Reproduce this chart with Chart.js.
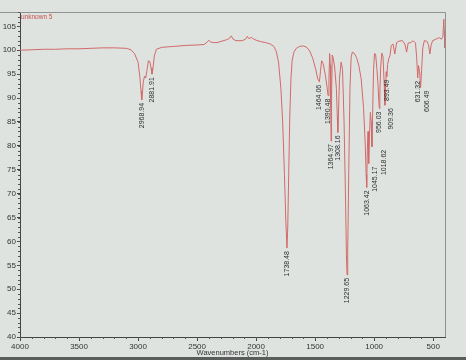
<!DOCTYPE html>
<html>
<head>
<meta charset="utf-8">
<script src="https://cdn.jsdelivr.net/npm/chart.js@4.4.1/dist/chart.umd.min.js"></script>
<style>
html, body { margin: 0; padding: 0; background: #dfe3e0; }
#wrap { width: 466px; height: 360px; }
</style>
</head>
<body>
<div id="wrap"><canvas id="irChart" width="466" height="360"></canvas></div>
<script>
// spectrum (wavenumber cm-1 -> %T)
const wavenumbers = [
    4000, 3900, 3800, 3700, 3600, 3500, 3400, 3300, 3200, 3100, 3060, 3030, 3000, 2985, 2975,
    2968.94, 2962, 2955, 2945, 2935, 2925, 2912, 2900, 2890, 2881.91, 2874, 2862, 2845, 2800,
    2700, 2600, 2500, 2440, 2410, 2400, 2385, 2360, 2330, 2290, 2250, 2225, 2210, 2195, 2170,
    2120, 2090, 2075, 2060, 2040, 2025, 2000, 1960, 1920, 1880, 1850, 1830, 1810, 1790, 1775,
    1760, 1748, 1738.48, 1732, 1724, 1715, 1705, 1695, 1680, 1660, 1630, 1600, 1570, 1545, 1520,
    1495, 1478, 1464.06, 1455, 1445, 1432, 1415, 1400, 1390.48, 1383, 1377, 1372, 1368, 1364.97,
    1361, 1355, 1348, 1335, 1320, 1312, 1308.16, 1303, 1294, 1280, 1268, 1255, 1242, 1235,
    1229.65, 1224, 1215, 1205, 1195, 1185, 1170, 1150, 1130, 1110, 1090, 1075, 1068, 1063.42,
    1058, 1052, 1048, 1045.17, 1040, 1032, 1025, 1018.62, 1012, 1005, 997, 988, 978, 968, 960,
    956.03, 952, 945, 935, 925, 915, 909.36, 904, 898, 893.49, 886, 876, 866, 855, 840, 825,
    810, 790, 760, 740, 725, 712, 690, 670, 650, 640, 631.32, 624, 615, 606.49, 598, 588, 575,
    555, 540, 528, 518, 505, 485, 465, 445, 430, 418, 410, 406, 402
];
const transmittance = [
    100.0, 100.1, 100.2, 100.2, 100.3, 100.3, 100.4, 100.5, 100.5, 100.4, 100.1, 99.3, 97.5, 94.5, 91.5,
    89.6, 91.5, 93.5, 94.6, 94.2, 95.8, 97.8, 97.6, 96.3, 95.0, 96.2, 98.8, 100.2, 100.6,
    100.8, 101.0, 101.1, 101.2, 101.8, 102.1, 101.7, 101.6, 101.6, 101.9, 102.2, 102.5, 103.0, 102.3, 102.0,
    102.0, 102.3, 102.9, 102.4, 102.7, 102.4, 102.1, 101.8, 101.6, 101.3, 100.8, 99.8, 97.5, 92, 85,
    74, 64, 58.6, 63, 74, 86, 94, 97.8, 99.6, 100.4, 100.8, 100.9, 100.6, 99.8, 98.3,
    96.0, 94.0, 93.4, 95.5, 97.8, 97.2, 95, 92.5, 90.5, 94, 99.3, 97, 88, 81,
    90, 99, 98.5, 96.5, 92, 86, 82.8, 86, 94, 97.5, 96, 85, 68, 57,
    53, 58, 75, 92, 98.5, 99.6, 99.4, 98.5, 96.8, 94, 88, 80, 74, 71.3,
    79, 83, 79, 76.3, 82, 87, 85, 79.8, 88, 96, 99.3, 99.2, 96.5, 93, 89,
    87.8, 91, 96.5, 99.4, 98.6, 93, 88.5, 91.5, 95.5, 94.5, 97, 98.3, 98.9, 101, 101.3, 99.2,
    101.6, 101.9, 102, 101.3, 99.6, 101.5, 101.6, 102.0, 101.5, 98.5, 94.2, 96.8, 95.5, 92.2, 96, 100.5, 102,
    101.9, 101.2, 99.2, 101, 102, 102.2, 102.5, 102.6, 102.3, 102.9, 106.5, 104, 100.5
];

// labelled peaks
const peakWn = [2968.94, 2881.91, 1738.48, 1464.06, 1390.48, 1364.97, 1308.16, 1229.65,
    1063.42, 1045.17, 1018.62, 956.03, 909.36, 893.49, 631.32, 606.49];
const peakT = [89.6, 95.0, 58.6, 93.4, 90.5, 81, 82.8, 53, 71.3, 76.3, 79.8, 87.8, 88.5, 94.5, 94.2, 92.2];
const peakLabels = ['2968.94', '2881.91', '1738.48', '1464.06', '1390.48', '1364.97', '1308.16', '1229.65',
    '1063.42', '1045.17', '1018.62', '956.03', '909.36', '893.49', '631.32', '606.49'];

const xTicks = [4000, 3500, 3000, 2500, 2000, 1500, 1000, 500];
const yTicks = [40, 45, 50, 55, 60, 65, 70, 75, 80, 85, 90, 95, 100, 105];
const sampleName = 'unknown 5';

const FONT = 'Liberation Sans, Arial, sans-serif';

const paperPlugin = {
    id: 'paper',
    beforeDraw(chart) {
        const ctx = chart.ctx;
        ctx.save();
        ctx.fillStyle = '#dfe3e0';
        ctx.fillRect(0, 0, chart.width, chart.height);
        ctx.fillStyle = '#5a5d5b';
        ctx.fillRect(0, chart.height - 3, chart.width, 3);
        ctx.restore();
    }
};

// frame, minor ticks, sample name and peak labels
const decorPlugin = {
    id: 'decor',
    afterDraw(chart) {
        const ctx = chart.ctx;
        const a = chart.chartArea;
        const xs = chart.scales.x;
        const ys = chart.scales.y;
        ctx.save();

        ctx.strokeStyle = '#8e9290';
        ctx.lineWidth = 1;
        ctx.beginPath();
        ctx.moveTo(0, a.top + 0.5);
        ctx.lineTo(a.right + 0.5, a.top + 0.5);
        ctx.lineTo(a.right + 0.5, a.bottom);
        ctx.stroke();

        ctx.strokeStyle = '#555';
        ctx.beginPath();
        for (let v = 40; v <= 108; v++) {
            const py = Math.round(ys.getPixelForValue(v)) + 0.5;
            ctx.moveTo(a.left - 2, py);
            ctx.lineTo(a.left, py);
        }
        for (let v = 500; v <= 4000; v += 100) {
            const px = Math.round(xs.getPixelForValue(v)) + 0.5;
            ctx.moveTo(px, a.bottom);
            ctx.lineTo(px, a.bottom + 2);
        }
        ctx.stroke();

        ctx.fillStyle = '#c9504f';
        ctx.font = '6.5px ' + FONT;
        ctx.textAlign = 'left';
        ctx.textBaseline = 'top';
        ctx.fillText(sampleName, a.left + 1, a.top + 2);

        ctx.fillStyle = '#2e2e2e';
        ctx.font = '7px ' + FONT;
        ctx.textAlign = 'right';
        ctx.textBaseline = 'middle';
        const placed = [];
        peakWn.forEach((wn, i) => {
            let px = xs.getPixelForValue(wn);
            const top = ys.getPixelForValue(peakT[i]) + 3;
            const len = ctx.measureText(peakLabels[i]).width;
            let guard = 0;
            while (guard++ < 6 && placed.some(r =>
                Math.abs(r.x - px) < 6 && top < r.bottom && top + len > r.top)) {
                px += 6;
            }
            placed.push({ x: px, top: top, bottom: top + len });
            ctx.save();
            ctx.translate(px, top);
            ctx.rotate(-Math.PI / 2);
            ctx.fillText(peakLabels[i], 0, 0);
            ctx.restore();
        });
        ctx.restore();
    }
};

const points = wavenumbers.map((wn, i) => ({ x: wn, y: transmittance[i] }));

new Chart(document.getElementById('irChart').getContext('2d'), {
    type: 'line',
    data: {
        datasets: [{
            label: sampleName,
            data: points,
            borderColor: '#d26a6a',
            borderWidth: 1,
            pointRadius: 0,
            tension: 0,
            fill: false
        }]
    },
    options: {
        responsive: false,
        devicePixelRatio: 1,
        animation: false,
        layout: { padding: { top: 12, right: 21, left: 0, bottom: 0 } },
        plugins: { legend: { display: false }, tooltip: { enabled: false } },
        scales: {
            x: {
                type: 'linear',
                reverse: true,
                min: 400,
                max: 4000,
                afterBuildTicks: s => { s.ticks = xTicks.map(v => ({ value: v })); },
                afterFit: s => { s.height = 23; },
                ticks: {
                    color: '#333', font: { size: 8, family: FONT }, maxRotation: 0, autoSkip: false, padding: 1,
                    callback: v => String(v)
                },
                grid: { drawOnChartArea: false, tickLength: 4, color: '#444' },
                border: { color: '#444' },
                title: {
                    display: true,
                    text: 'Wavenumbers (cm-1)',
                    color: '#333',
                    font: { size: 7.5, family: FONT },
                    padding: { top: 0, bottom: 3 }
                }
            },
            y: {
                min: 40,
                max: 108,
                afterBuildTicks: s => { s.ticks = yTicks.map(v => ({ value: v })); },
                afterFit: s => { s.width = 20; },
                ticks: { color: '#333', font: { size: 8, family: FONT }, padding: 1, callback: v => String(v) },
                grid: { drawOnChartArea: false, tickLength: 3, color: '#444' },
                border: { color: '#444' }
            }
        }
    },
    plugins: [paperPlugin, decorPlugin]
});
</script>
</body>
</html>
